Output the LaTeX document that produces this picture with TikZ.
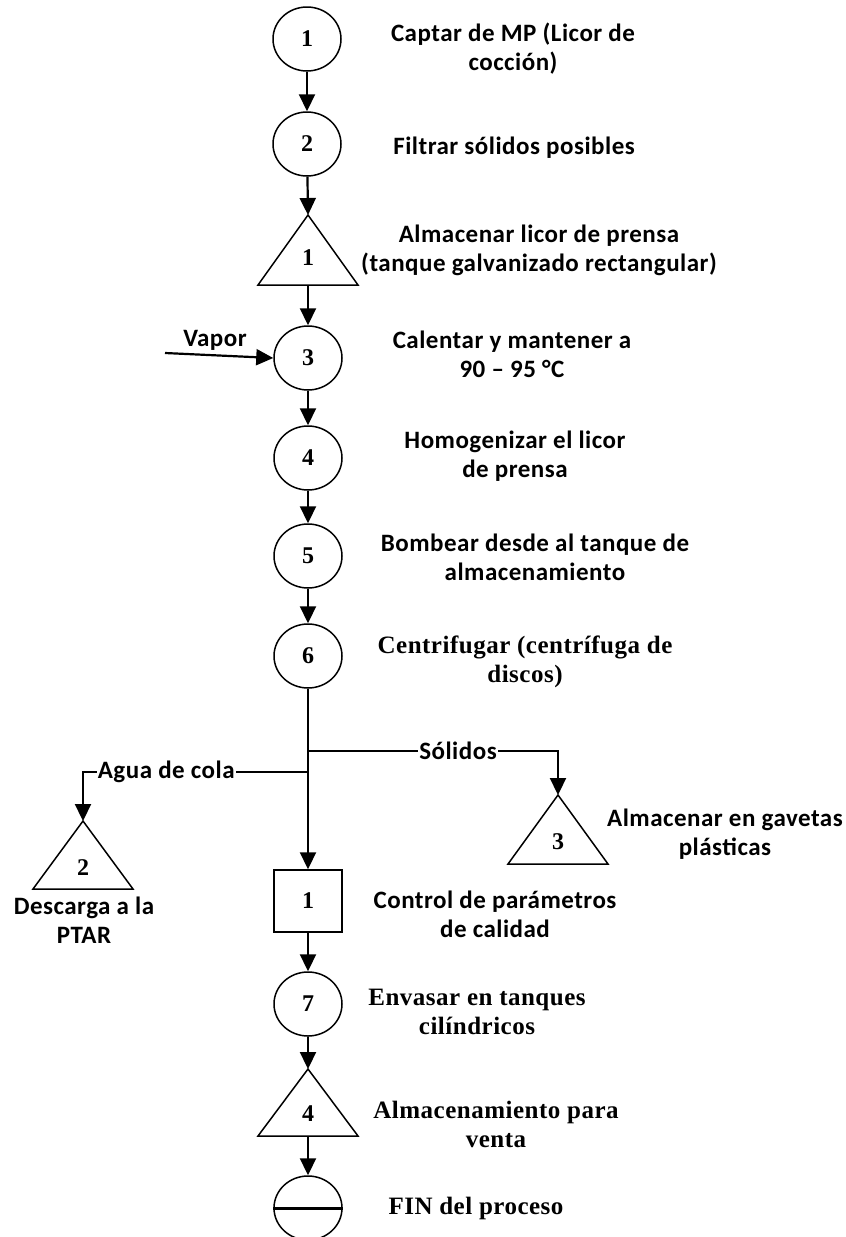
\documentclass[tikz,border=0pt]{standalone}
\usepackage{fontspec}
\setmainfont{Carlito}[LetterSpace=2.0]
\newfontfamily\serfont{Liberation Serif}[LetterSpace=2.0]
\newfontfamily\digfont{Liberation Serif}
\usetikzlibrary{shapes.geometric,arrows.meta}

\tikzset{
    opcirc/.style={ellipse, draw, line width=1.5pt, minimum width=68pt, minimum height=64pt, inner sep=0pt, font=\digfont\bfseries\fontsize{24}{28}\selectfont},
    insp/.style={rectangle, draw, line width=1.5pt, minimum width=68pt, minimum height=62pt, inner sep=0pt, font=\digfont\bfseries\fontsize{24}{28}\selectfont},
    digit/.style={inner sep=0pt, font=\digfont\bfseries\fontsize{24}{28}\selectfont},
    tri/.style={line width=1.5pt, line join=miter},
    txt/.style={align=center, inner sep=1pt, font=\bfseries\fontsize{25}{29}\selectfont},
    stxt/.style={align=center, inner sep=1pt, font=\serfont\bfseries\fontsize{25}{29}\selectfont},
    flow/.style={line width=2.2pt, -{Triangle[length=17pt, width=16pt]}},
}

\begin{document}
\begin{tikzpicture}[x=1pt, y=-1pt]
    \useasboundingbox (0,0) rectangle (846,1237);
    % columna principal
    \node[opcirc] (c1) at (307,39) {1};
    \node[opcirc] (c2) at (307,144) {2};
    \coordinate (t1) at (308,215);
    \coordinate (t1b) at (308,285);
    \draw[tri] (t1) -- (258,285) -- (358,285) -- cycle;
    \node[digit] (d1) at (308,258) {1};
    \node[opcirc] (c3) at (308,358) {3};
    \node[opcirc] (c4) at (308,458) {4};
    \node[opcirc] (c5) at (308,556) {5};
    \node[opcirc] (c6) at (308,656) {6};
    \node[insp] (b1) at (308,901) {1};
    \node[opcirc] (c7) at (308,1004) {7};
    \coordinate (t4) at (308,1069);
    \coordinate (t4b) at (308,1136);
    \draw[tri] (t4) -- (258,1136) -- (358,1136) -- cycle;
    \node[digit] (d4) at (308,1114) {4};
    \node[opcirc] (fin) at (308,1208) {};
    \draw[line width=3pt] (fin.west) -- (fin.east);

    % almacenamientos laterales
    \coordinate (t2) at (83,821);
    \draw[tri] (t2) -- (33,889) -- (133,889) -- cycle;
    \node[digit] (d2) at (83,868) {2};
    \coordinate (t3) at (558,795);
    \draw[tri] (t3) -- (508,864) -- (608,864) -- cycle;
    \node[digit] (d3) at (558,842) {3};

    % flechas
    \draw[flow] (c1) -- (c2);
    \draw[flow] (c2) -- (t1);
    \draw[flow] (t1b) -- (c3);
    \draw[flow] (c3) -- (c4);
    \draw[flow] (c4) -- (c5);
    \draw[flow] (c5) -- (c6);
    \draw[flow] (c6) -- (b1);
    \coordinate (j1) at (308,751);
    \coordinate (j2) at (308,772);
    \draw[flow] (j1) -- node[txt, fill=white, pos=0.6] (sol) {Sólidos} (t3 |- j1) -- (t3);
    \draw[flow] (j2) -- node[txt, fill=white, pos=0.63] (agua) {Agua de cola} (t2 |- j2) -- (t2);
    \coordinate (vap) at (165,353);
    \draw[flow] (vap) -- (c3.west);
    \draw[flow] (b1) -- (c7);
    \draw[flow] (c7) -- (t4);
    \draw[flow] (t4b) -- (fin);

    % textos
    \node[txt] (l1) at (513,49) {Captar de MP (Licor de\\cocción)};
    \node[txt] (l2) at (514,148) {Filtrar sólidos posibles};
    \node[txt] (l3) at (539,250) {Almacenar licor de prensa\\(tanque galvanizado rectangular)};
    \node[txt] (vapor) at (215,340) {Vapor};
    \node[txt] (l4) at (512,354) {Calentar y mantener a\\90 – 95 °C};
    \node[txt] (l5) at (515,456) {Homogenizar el licor\\de prensa};
    \node[txt] (l6) at (535,557) {Bombear desde al tanque de\\almacenamiento};
    \node[stxt] (l7) at (525,662) {Centrifugar (centrífuga de\\discos)};
    \node[txt] (l8) at (725,834) {Almacenar en gavetas\\plásticas};
    \node[txt] (l9) at (84,920) {Descarga a la\\PTAR};
    \node[txt] (l10) at (495,914) {Control de parámetros\\de calidad};
    \node[stxt] (l11) at (477,1012) {Envasar en tanques\\cilíndricos};
    \node[stxt] (l12) at (496,1124) {Almacenamiento para\\venta};
    \node[stxt] (l13) at (476,1208) {FIN del proceso};
\end{tikzpicture}
\end{document}
